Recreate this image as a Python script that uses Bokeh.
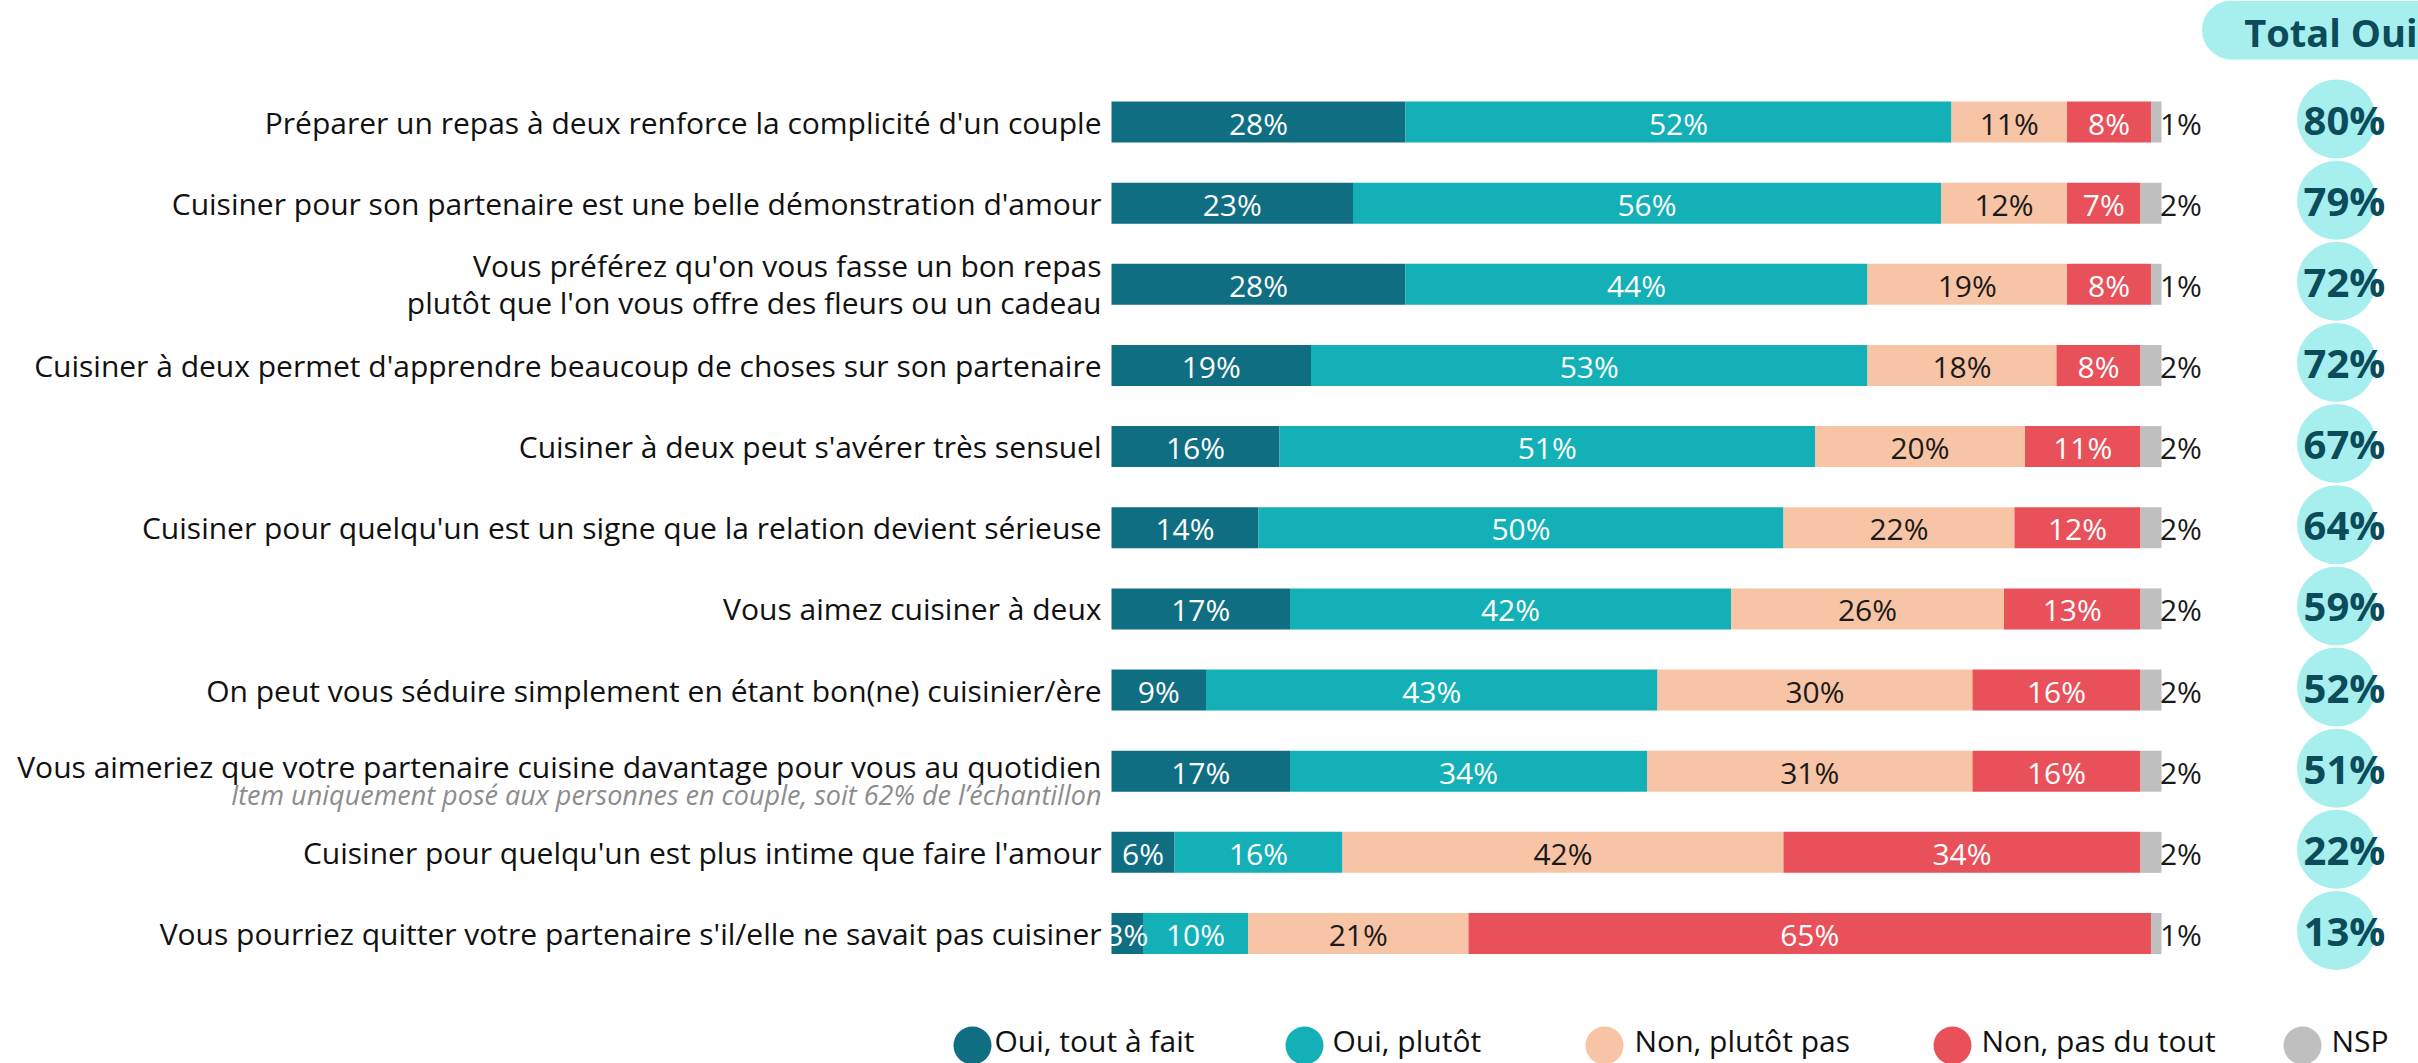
from bokeh.plotting import figure
from bokeh.models import Range1d, ColumnDataSource
from bokeh.core.properties import value
from bokeh.embed import file_html
from bokeh.resources import INLINE

# ---------------- data ----------------
categories = [
    "Préparer un repas à deux renforce la complicité d'un couple",
    "Cuisiner pour son partenaire est une belle démonstration d'amour",
    "Vous préférez qu'on vous fasse un bon repas\nplutôt que l'on vous offre des fleurs ou un cadeau",
    "Cuisiner à deux permet d'apprendre beaucoup de choses sur son partenaire",
    "Cuisiner à deux peut s'avérer très sensuel",
    "Cuisiner pour quelqu'un est un signe que la relation devient sérieuse",
    "Vous aimez cuisiner à deux",
    "On peut vous séduire simplement en étant bon(ne) cuisinier/ère",
    "Vous aimeriez que votre partenaire cuisine davantage pour vous au quotidien",
    "Cuisiner pour quelqu'un est plus intime que faire l'amour",
    "Vous pourriez quitter votre partenaire s'il/elle ne savait pas cuisiner",
]
oui_tout_a_fait = [28, 23, 28, 19, 16, 14, 17, 9, 17, 6, 3]
oui_plutot = [52, 56, 44, 53, 51, 50, 42, 43, 34, 16, 10]
non_plutot_pas = [11, 12, 19, 18, 20, 22, 26, 30, 31, 42, 21]
non_pas_du_tout = [8, 7, 8, 8, 11, 12, 13, 16, 16, 34, 65]
nsp = [1, 2, 1, 2, 2, 2, 2, 2, 2, 2, 1]
total_oui = [80, 79, 72, 72, 67, 64, 59, 52, 51, 22, 13]

series_names = ["Oui, tout à fait", "Oui, plutôt", "Non, plutôt pas", "Non, pas du tout", "NSP"]
header_text = "Total Oui"
note_text = "Item uniquement posé aux personnes en couple, soit 62% de l’échantillon"
note_row = 8

# ---------------- style / layout ----------------
colors = ["#0f6e82", "#13b0b7", "#f7c4a5", "#e8515a", "#bfbfbf"]
label_colors = ["#ffffff", "#ffffff", "#1a1a1a", "#ffffff", "#1a1a1a"]
W, H = 2418, 1063
BAR_X0 = 1111.0        # pixel where 0% sits
PX_PER_PCT = 10.5      # pixel per percent
ROW0 = 121.5
ROW_STEP = 81.15
BAR_H = 41
FONT = "Open Sans"


def px2x(px):
    return (px - BAR_X0) / PX_PER_PCT


n = len(categories)
ys = [ROW0 + ROW_STEP * i for i in range(n)]
series = [oui_tout_a_fait, oui_plutot, non_plutot_pas, non_pas_du_tout, nsp]
keys = ["s0", "s1", "s2", "s3", "s4"]

src = ColumnDataSource(dict(y=ys, **{k: v for k, v in zip(keys, series)}))

p = figure(width=W, height=H, output_backend="svg", toolbar_location=None,
           x_range=Range1d(px2x(0), px2x(W)), y_range=Range1d(H, 0),
           min_border=0, x_axis_location=None, y_axis_location=None)
p.grid.visible = False
p.outline_line_color = None
p.background_fill_color = "white"
p.border_fill_color = "white"

p.hbar_stack(keys, y="y", height=BAR_H, color=colors, line_color=None, source=src)

# segment labels
for si, vals in enumerate(series):
    xs, yy, tx = [], [], []
    for i in range(n):
        left = sum(series[k][i] for k in range(si))
        if si < 4:
            xs.append(left + vals[i] / 2.0)
        else:
            xs.append(left + vals[i] - 0.15)
        yy.append(ys[i] + 1)
        tx.append(f"{vals[i]}%")
    p.text(x=xs, y=yy, text=tx, text_color=label_colors[si],
           text_align="center" if si < 4 else "left", text_baseline="middle",
           text_font=value(FONT), text_font_size="30px")

# category labels
cy = [y - 5 if i == note_row else y for i, y in enumerate(ys)]
p.text(x=[px2x(1101)] * n, y=cy, text=categories, text_align="right",
       text_baseline="middle", text_font=value(FONT), text_font_size="30px",
       text_color="#111111", text_line_height=0.9)
p.text(x=[px2x(1101)], y=[ys[note_row] + 23], text=[note_text], text_align="right",
       text_baseline="middle", text_font=value(FONT), text_font_size="27px",
       text_font_style="italic", text_color="#8c8c8c")

# Total Oui column
p.scatter(x=[px2x(2336)] * n, y=[y - 3 for y in ys], size=79, marker="circle",
          fill_color="#a7eeee", line_color=None)
p.text(x=[px2x(2344)] * n, y=[y - 3 for y in ys], text=[f"{v}%" for v in total_oui],
       text_align="center", text_baseline="middle", text_font=value(FONT),
       text_font_size="40px", text_font_style="bold", text_color="#0b4b5a")

# header pill
p.scatter(x=[px2x(2231)], y=[29.5], size=59, marker="circle", fill_color="#a7eeee", line_color=None)
p.quad(left=[px2x(2231)], right=[px2x(W + 20)], top=[0], bottom=[59],
       fill_color="#a7eeee", line_color=None)
p.text(x=[px2x(2417)], y=[31], text=[header_text], text_align="right", text_baseline="middle",
       text_font=value(FONT), text_font_size="38px", text_font_style="bold", text_color="#0b4b5a")

# legend
leg_cx = [972, 1304, 1604, 1952, 2302]
leg_tx = [994, 1332, 1634, 1981, 2331]
p.scatter(x=[px2x(c) for c in leg_cx], y=[1045] * 5, size=38, marker="circle",
          fill_color=colors, line_color=None)
p.text(x=[px2x(t) for t in leg_tx], y=[1040] * 5, text=series_names,
       text_align="left", text_baseline="middle", text_font=value(FONT),
       text_font_size="30px", text_color="#111111")

open("out.html", "w").write(file_html(p, INLINE))
